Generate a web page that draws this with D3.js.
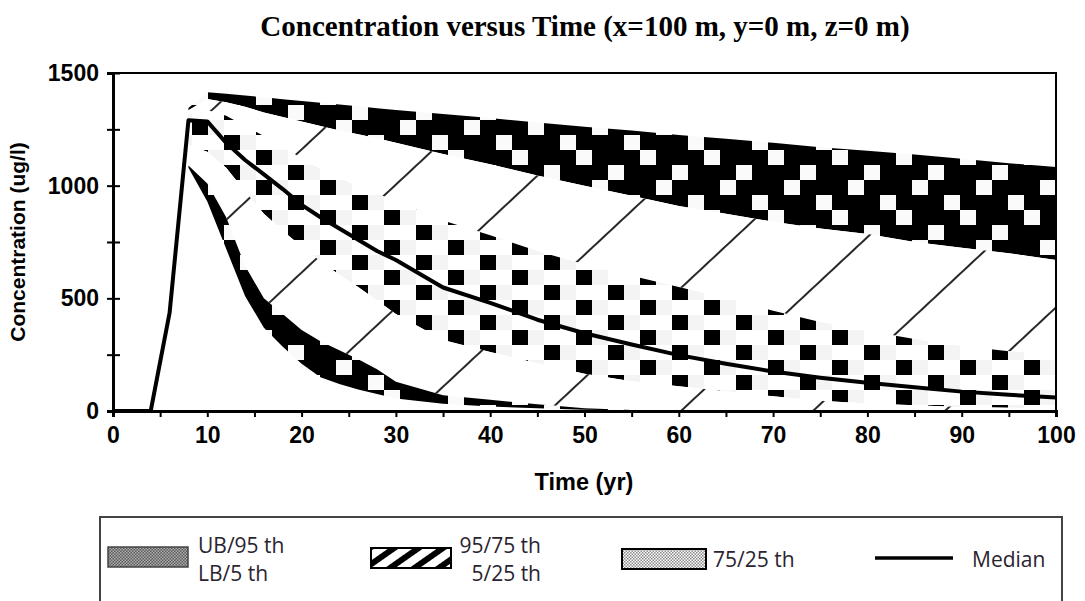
<!DOCTYPE html>
<html>
<head>
<meta charset="utf-8">
<script src="https://cdn.jsdelivr.net/npm/d3@7"></script>
<style>
  body { margin: 0; background: #fff; }
</style>
</head>
<body>
<script>
// time axis (yr)
var time   = [0,2,4,6,8,10,12,14,16,18,20,22,24,26,28,30,35,40,45,50,55,60,65,70,75,80,85,90,95,100];
// concentration percentiles (ug/l), null = not yet arrived
var ub     = [null,null,null,null,1345,1415,1408,1400,1392,1384,1376,1368,1360,1352,1344,1336,1318,1300,1280,1262,1245,1225,1208,1190,1170,1155,1138,1120,1100,1083];
var p95    = [null,null,null,null,1335,1385,1370,1350,1325,1305,1285,1265,1245,1228,1210,1190,1140,1095,1045,1000,955,910,875,840,810,785,750,725,700,670];
var p75    = [null,null,null,null,1315,1335,1310,1265,1220,1175,1120,1075,1035,995,965,930,845,780,710,650,600,550,500,445,395,355,320,288,265,248];
var median = [0,0,0,435,1290,1285,1190,1114,1050,985,915,860,810,760,710,670,548,480,405,345,295,248,210,175,148,125,105,86,72,60];
var p25    = [null,null,null,null,1180,1150,1080,975,875,800,730,665,605,550,490,430,315,262,212,165,132,110,88,65,45,33,25,18,14,12];
var p5     = [null,null,null,null,1090,1010,860,645,500,430,360,310,270,230,185,130,70,50,30,12,4,0,0,0,0,0,0,0,0,0];
var lb     = [null,null,null,null,1080,930,720,510,370,285,210,150,120,95,75,55,32,20,12,5,2,0,0,0,0,0,0,0,0,0];

var xTicks = d3.range(0, 101, 5);
var yTicks = d3.range(0, 1501, 250);

var W = 1085, H = 601;
var mLeft = 113, mRight = 1056, mTop = 73, mBottom = 411;

var svg = d3.select('body').append('svg')
    .attr('width', W)
    .attr('height', H);

var x = d3.scaleLinear().domain([0, 100]).range([mLeft, mRight]);
var y = d3.scaleLinear().domain([0, 1500]).range([mBottom, mTop]);

var defs = svg.append('defs');

// dark band fill: black with scattered white cells
var dark = defs.append('pattern').attr('id', 'dark')
    .attr('patternUnits', 'userSpaceOnUse').attr('width', 64).attr('height', 60);
dark.append('rect').attr('width', 64).attr('height', 60).attr('fill', '#000');
[[16,0],[48,15],[0,30],[32,45]].forEach(function(c){
  dark.append('rect').attr('x', c[0]).attr('y', c[1]).attr('width', 16).attr('height', 15).attr('fill', '#fafafa');
});

// light band fill: white with black cells
var light = defs.append('pattern').attr('id', 'light')
    .attr('patternUnits', 'userSpaceOnUse').attr('width', 64).attr('height', 30);
light.append('rect').attr('width', 64).attr('height', 30).attr('fill', '#fff');
[[16,0],[48,15]].forEach(function(c){
  light.append('rect').attr('x', c[0]).attr('y', c[1]).attr('width', 16).attr('height', 15).attr('fill', '#f4f4f4');
});
[[0,0],[32,15]].forEach(function(c){
  light.append('rect').attr('x', c[0]).attr('y', c[1]).attr('width', 16).attr('height', 15).attr('fill', '#000');
});

// hatch fill: thin widely spaced "/" lines
var hatch = defs.append('pattern').attr('id', 'hatch')
    .attr('patternUnits', 'userSpaceOnUse').attr('width', 20).attr('height', 90)
    .attr('patternTransform', 'rotate(-43)');
hatch.append('rect').attr('width', 20).attr('height', 90).attr('fill', '#fff');
hatch.append('line').attr('x1', 0).attr('x2', 20).attr('y1', 45).attr('y2', 45)
    .attr('stroke', '#000').attr('stroke-width', 1.7);

// legend swatch fills
var fineDark = defs.append('pattern').attr('id', 'fineDark')
    .attr('patternUnits', 'userSpaceOnUse').attr('width', 3).attr('height', 3);
fineDark.append('rect').attr('width', 3).attr('height', 3).attr('fill', '#5a5a5a');
fineDark.append('rect').attr('width', 1.5).attr('height', 1.5).attr('fill', '#b0b0b0');
fineDark.append('rect').attr('x', 1.5).attr('y', 1.5).attr('width', 1.5).attr('height', 1.5).attr('fill', '#b0b0b0');

var fineLight = defs.append('pattern').attr('id', 'fineLight')
    .attr('patternUnits', 'userSpaceOnUse').attr('width', 3).attr('height', 3);
fineLight.append('rect').attr('width', 3).attr('height', 3).attr('fill', '#fff');
fineLight.append('rect').attr('width', 1.5).attr('height', 1.5).attr('fill', '#8a8a8a');
fineLight.append('rect').attr('x', 1.5).attr('y', 1.5).attr('width', 1.5).attr('height', 1.5).attr('fill', '#8a8a8a');

var thick = defs.append('pattern').attr('id', 'thick')
    .attr('patternUnits', 'userSpaceOnUse').attr('width', 14).attr('height', 14)
    .attr('patternTransform', 'rotate(-35)');
thick.append('rect').attr('width', 14).attr('height', 14).attr('fill', '#fff');
thick.append('rect').attr('width', 14).attr('height', 6).attr('fill', '#000');

defs.append('clipPath').attr('id', 'plotClip')
  .append('rect').attr('x', mLeft).attr('y', mTop)
  .attr('width', mRight - mLeft).attr('height', mBottom - mTop);

// bands
var bands = [
  {lo: p95, hi: ub,  fill: 'url(#dark)'},
  {lo: p75, hi: p95, fill: 'url(#hatch)'},
  {lo: p25, hi: p75, fill: 'url(#light)'},
  {lo: p5,  hi: p25, fill: 'url(#hatch)'},
  {lo: lb,  hi: p5,  fill: 'url(#dark)'}
];

var plot = svg.append('g').attr('clip-path', 'url(#plotClip)');

bands.forEach(function(b){
  var area = d3.area()
      .defined(function(d, i){ return b.lo[i] != null && b.hi[i] != null; })
      .x(function(d){ return x(d); })
      .y0(function(d, i){ return y(b.lo[i]); })
      .y1(function(d, i){ return y(b.hi[i]); });
  plot.append('path').datum(time)
      .attr('d', area)
      .attr('fill', b.fill);
});

var line = d3.line()
    .x(function(d){ return x(d); })
    .y(function(d, i){ return y(median[i]); });

plot.append('path').datum(time)
    .attr('d', line)
    .attr('fill', 'none')
    .attr('stroke', '#000')
    .attr('stroke-width', 4)
    .attr('stroke-linejoin', 'round');

// frame
svg.append('rect')
    .attr('x', mLeft).attr('y', mTop)
    .attr('width', mRight - mLeft).attr('height', mBottom - mTop)
    .attr('fill', 'none').attr('stroke', '#000').attr('stroke-width', 2);

// axes
var xAxis = svg.append('g')
    .attr('transform', 'translate(0,' + mBottom + ')')
    .call(d3.axisBottom(x).tickValues(xTicks).tickSize(6).tickPadding(10)
      .tickFormat(function(d){ return d % 10 === 0 ? d : ''; }));

var yAxis = svg.append('g')
    .attr('transform', 'translate(' + mLeft + ',0)')
    .call(d3.axisLeft(y).tickValues(yTicks).tickSize(6).tickPadding(8)
      .tickFormat(function(d){ return d % 500 === 0 ? d : ''; }));
yAxis.selectAll('.tick line').attr('x2', -6).attr('x1', 7);

[xAxis, yAxis].forEach(function(a){
  a.select('.domain').attr('stroke-width', 3);
  a.selectAll('.tick line').attr('stroke-width', 2);
  a.selectAll('text')
    .attr('font-family', 'Liberation Sans, Arial, sans-serif')
    .attr('font-weight', 'bold')
    .attr('font-size', '23px')
    .attr('fill', '#000');
});

// titles
svg.append('text')
    .attr('x', 585).attr('y', 36)
    .attr('text-anchor', 'middle')
    .attr('font-family', 'Liberation Serif, Times New Roman, serif')
    .attr('font-weight', 'bold')
    .attr('font-size', '29px')
    .text('Concentration versus Time (x=100 m, y=0 m, z=0 m)');

svg.append('text')
    .attr('x', 584).attr('y', 490)
    .attr('text-anchor', 'middle')
    .attr('font-family', 'Liberation Sans, Arial, sans-serif')
    .attr('font-weight', 'bold')
    .attr('font-size', '23.5px')
    .text('Time (yr)');

svg.append('text')
    .attr('transform', 'translate(25,242) rotate(-90)')
    .attr('text-anchor', 'middle')
    .attr('font-family', 'Liberation Sans, Arial, sans-serif')
    .attr('font-weight', 'bold')
    .attr('font-size', '21px')
    .text('Concentration (ug/l)');

// legend
var lg = svg.append('g');
lg.append('rect')
    .attr('x', 100).attr('y', 517)
    .attr('width', 962).attr('height', 95)
    .attr('fill', '#fff').attr('stroke', '#444').attr('stroke-width', 2);

var legendFont = 'Open Sans, Noto Sans, sans-serif';
function legendText(tx, ty, s, anchor){
  lg.append('text').attr('x', tx).attr('y', ty)
    .attr('text-anchor', anchor || 'start')
    .attr('font-family', legendFont)
    .attr('font-size', '21px')
    .attr('fill', '#2a2430')
    .text(s);
}

lg.append('rect').attr('x', 108).attr('y', 547).attr('width', 80).attr('height', 20)
    .attr('fill', 'url(#fineDark)').attr('stroke', '#444').attr('stroke-width', 1.5);
legendText(198, 553, 'UB/95 th');
legendText(198, 581, 'LB/5 th');

lg.append('rect').attr('x', 371).attr('y', 548).attr('width', 80).attr('height', 20)
    .attr('fill', 'url(#thick)').attr('stroke', '#000').attr('stroke-width', 2);
legendText(541, 553, '95/75 th', 'end');
legendText(541, 581, '5/25 th', 'end');

lg.append('rect').attr('x', 622).attr('y', 549).attr('width', 84).attr('height', 20)
    .attr('fill', 'url(#fineLight)').attr('stroke', '#000').attr('stroke-width', 2);
legendText(713, 567, '75/25 th');

lg.append('line').attr('x1', 875).attr('x2', 953).attr('y1', 558).attr('y2', 558)
    .attr('stroke', '#000').attr('stroke-width', 3.5);
legendText(972, 567, 'Median');
</script>
</body>
</html>
